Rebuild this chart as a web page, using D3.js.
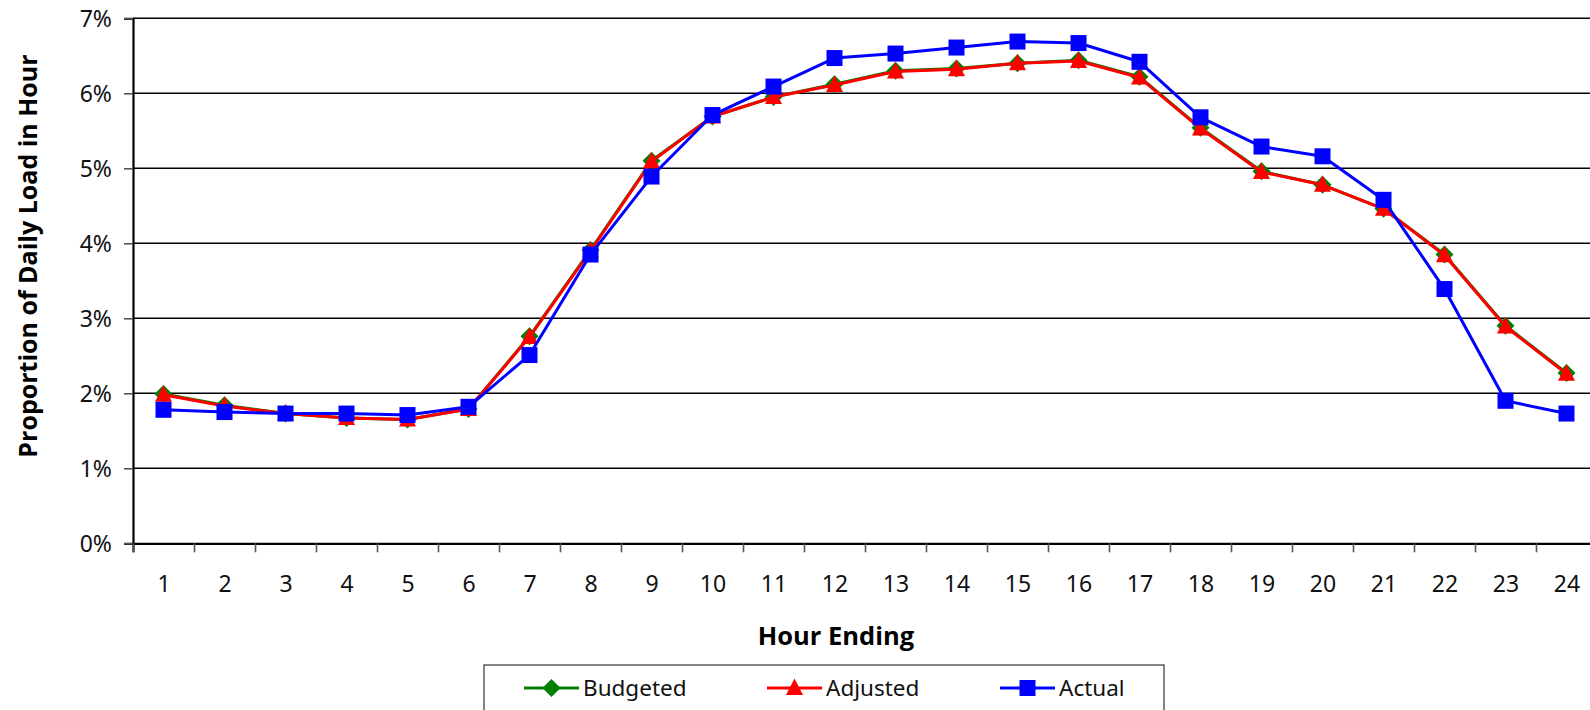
<!DOCTYPE html>
<html>
<head>
<meta charset="utf-8">
<script src="https://cdn.jsdelivr.net/npm/d3@7/dist/d3.min.js"></script>
<style>
  html, body { margin: 0; padding: 0; background: #fff; }
  svg { display: block; }
</style>
</head>
<body>
<svg id="chart" width="1590" height="710"></svg>
<script>
const hours = [1,2,3,4,5,6,7,8,9,10,11,12,13,14,15,16,17,18,19,20,21,22,23,24];
const budgeted = [1.99,1.84,1.73,1.67,1.65,1.79,2.76,3.91,5.10,5.69,5.95,6.12,6.30,6.33,6.40,6.44,6.22,5.54,4.96,4.78,4.46,3.85,2.90,2.27];
const adjusted = [1.98,1.83,1.73,1.67,1.65,1.79,2.75,3.90,5.09,5.69,5.95,6.11,6.29,6.32,6.40,6.43,6.21,5.53,4.95,4.78,4.46,3.84,2.89,2.26];
const actual   = [1.78,1.75,1.73,1.73,1.71,1.82,2.51,3.85,4.89,5.71,6.09,6.47,6.53,6.61,6.69,6.67,6.42,5.68,5.29,5.16,4.58,3.39,1.90,1.73];
const yTicks = [0,1,2,3,4,5,6,7];
const seriesNames = ["Budgeted","Adjusted","Actual"];
const seriesColors = ["#008000","#FF0000","#0000FF"];
const xTitle = "Hour Ending";
const yTitle = "Proportion of Daily Load in Hour";

const svg = d3.select("#chart");
const plotLeft = 133, plotRight = 1597, plotTop = 18.3, plotBottom = 543.3;

const x = d3.scaleLinear().domain([0.5, 24.5]).range([plotLeft, plotRight]);
const y = d3.scaleLinear().domain([0, 7]).range([plotBottom, plotTop]);

// gridlines
svg.append("g").selectAll("line").data(yTicks.filter(d => d > 0)).join("line")
  .attr("x1", plotLeft).attr("x2", plotRight)
  .attr("y1", d => y(d)).attr("y2", d => y(d))
  .attr("stroke", "#000").attr("stroke-width", 1.6);

// y axis
const yAxis = d3.axisLeft(y).tickValues(yTicks).tickSize(9).tickFormat(d => d + "%");
const gy = svg.append("g").attr("transform", `translate(${plotLeft},0)`).call(yAxis);
gy.select(".domain").attr("stroke", "#000").attr("stroke-width", 2.2);
gy.selectAll(".tick line").attr("stroke", "#555").attr("stroke-width", 1.6);
gy.selectAll(".tick text").attr("x", -21).attr("dy", "0.36em")
  .style("font-family", "'Noto Sans', sans-serif").style("font-size", "23px").attr("fill", "#111");

// x axis: ticks at category boundaries
const boundaries = d3.range(0, 25).map(i => i + 0.5);
const xAxisTicks = d3.axisBottom(x).tickValues(boundaries).tickSize(9).tickFormat("");
const gx = svg.append("g").attr("transform", `translate(0,${plotBottom})`).call(xAxisTicks);
gx.select(".domain").attr("stroke", "#000").attr("stroke-width", 2.2);
gx.selectAll(".tick line").attr("stroke", "#555").attr("stroke-width", 1.6);

const xLabels = d3.axisBottom(x).tickValues(hours).tickSize(0).tickFormat(d => d);
const gxl = svg.append("g").attr("transform", `translate(0,${plotBottom})`).call(xLabels);
gxl.select(".domain").remove();
gxl.selectAll(".tick text").attr("y", 40).attr("dy", "0.36em")
  .style("font-family", "'Noto Sans', sans-serif").style("font-size", "23px").attr("fill", "#111");

// titles
svg.append("text").attr("x", 836).attr("y", 636).attr("dy", "0.36em")
  .attr("text-anchor", "middle")
  .style("font-family", "'Open Sans', sans-serif").style("font-weight", "700").style("font-size", "25.5px")
  .text(xTitle);
svg.append("text").attr("transform", "translate(28,256) rotate(-90)").attr("dy", "0.36em")
  .attr("text-anchor", "middle")
  .style("font-family", "'Open Sans', sans-serif").style("font-weight", "700").style("font-size", "25px")
  .text(yTitle);

// series
const series = [budgeted, adjusted, actual];
const line = d3.line().x((d, i) => x(hours[i])).y(d => y(d));

function markerPath(k) {
  if (k === 0) {
    return "M0,-9L9,0L0,9L-9,0Z";
  } else if (k === 1) {
    return "M0,-9.5L8.5,7L-8.5,7Z";
  } else {
    return "M-8,-8H8V8H-8Z";
  }
}

series.forEach((vals, k) => {
  const g = svg.append("g");
  g.append("path").datum(vals).attr("d", line)
    .attr("fill", "none").attr("stroke", seriesColors[k]).attr("stroke-width", 3)
    .attr("stroke-linejoin", "round");
  g.selectAll("path.m").data(vals).join("path").attr("class", "m")
    .attr("transform", (d, i) => `translate(${x(hours[i])},${y(d)})`)
    .attr("d", markerPath(k))
    .attr("fill", seriesColors[k]);
});

// legend
const lg = svg.append("g");
lg.append("rect").attr("x", 484).attr("y", 665).attr("width", 680).attr("height", 60)
  .attr("fill", "#fff").attr("stroke", "#333").attr("stroke-width", 1.2);
const legendX = [524, 767, 1000];
seriesNames.forEach((name, k) => {
  const cx = legendX[k];
  const ly = 688;
  lg.append("line").attr("x1", cx).attr("x2", cx + 55).attr("y1", ly).attr("y2", ly)
    .attr("stroke", seriesColors[k]).attr("stroke-width", 3);
  lg.append("path").attr("transform", `translate(${cx + 27.5},${ly})`).attr("d", markerPath(k))
    .attr("fill", seriesColors[k]);
  lg.append("text").attr("x", cx + 59).attr("y", ly).attr("dy", "0.36em")
    .style("font-family", "'Noto Sans', sans-serif").style("font-size", "22.5px").attr("fill", "#111")
    .text(name);
});
</script>
</body>
</html>
